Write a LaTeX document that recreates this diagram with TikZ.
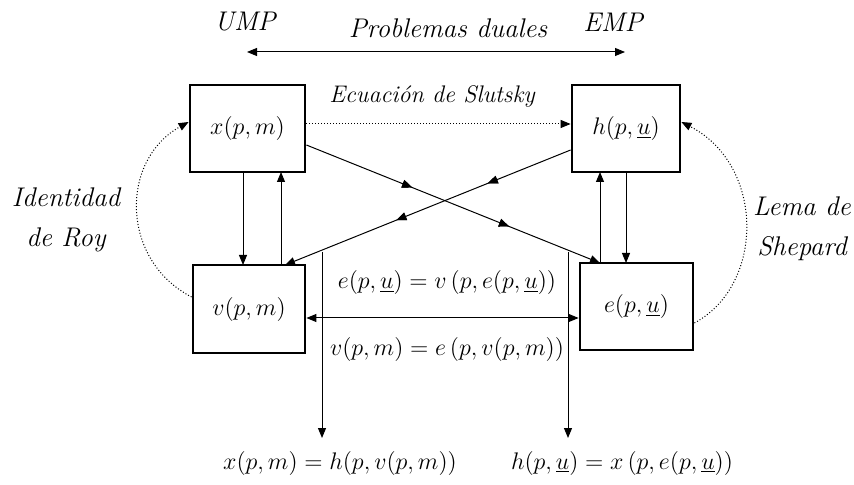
\documentclass[tikz,border=0pt]{standalone}
\usetikzlibrary{arrows.meta,decorations.markings}
\begin{document}
\begin{tikzpicture}[x=0.5pt,y=-0.5pt,
  box/.style={draw,line width=1.4pt,inner sep=0pt,font=\fontsize{13}{15}\selectfont},
  lbl/.style={font=\fontsize{13.5}{16}\selectfont\itshape,inner sep=1pt},
  eq/.style={font=\fontsize{12.5}{14}\selectfont,inner sep=1pt},
  arr/.style={line width=0.5pt,-{Triangle[length=5pt,width=4pt]}},
  midarr/.style={line width=0.5pt,-{Triangle[length=5pt,width=4pt]},
    postaction={decorate},decoration={markings,
      mark=at position #1 with {\arrow{Triangle[length=5pt,width=4pt]}}}},
  dotarr/.style={line width=0.5pt,densely dotted,-{Triangle[length=5pt,width=4pt]}}
]
\useasboundingbox (0,0) rectangle (854,485);

% top
\node[lbl] (ump) at (245,22) {UMP};
\node[lbl] (emp) at (613,22) {EMP};
\node[lbl] (dual) at (448,28) {Problemas duales};
\coordinate (dl) at (247,52);
\coordinate (dr) at (625,52);
\draw[line width=0.5pt,{Triangle[length=5pt,width=4pt]}-{Triangle[length=5pt,width=4pt]}] (dl) -- (dr);

% boxes
\node[box,minimum width=57.5pt,minimum height=43.5pt] (x) at (247.5,128.5) {$x(p,m)$};
\node[box,minimum width=54pt,minimum height=43.5pt] (h) at (626,128.5) {$h(p,\underline{u})$};
\node[box,minimum width=56pt,minimum height=44pt] (v) at (249,309) {$v(p,m)$};
\node[box,minimum width=56.5pt,minimum height=43.5pt] (e) at (636.5,306.5) {$e\bigl(p,\underline{u}\bigr)$};

% Slutsky
\node[lbl,font=\fontsize{12}{14}\selectfont\itshape] (slut) at (432,97) {Ecuación de Slutsky};
\draw[dotarr] (x.east |- 0,124) -- (h.west |- 0,124);

% crossing arrows
\draw[midarr=0.36,postaction={decorate},decoration={markings,mark=at position 0.69 with {\arrow{Triangle[length=5pt,width=4pt]}}}]
  (x.east |- 0,145) -- (600,263);
\draw[midarr=0.29,postaction={decorate},decoration={markings,mark=at position 0.61 with {\arrow{Triangle[length=5pt,width=4pt]}}}]
  (h.west |- 0,150) -- (285,265);

% vertical pairs
\draw[arr] (243,172) -- (243,265);
\draw[arr] (281,265) -- (281,172);
\draw[arr] (600,263) -- (600,172);
\draw[arr] (626,172) -- (626,263);

% horizontal double arrow
\draw[line width=0.5pt,{Triangle[length=5pt,width=4pt]}-{Triangle[length=5pt,width=4pt]}] (v.east |- 0,318) -- (e.west |- 0,318);

% equations
\node[eq] (eq1) at (447,283) {$e\bigl(p,\underline{u}\bigr)=v\left(p,e\bigl(p,\underline{u}\bigr)\right)$};
\node[eq] (eq2) at (447,350) {$v(p,m)=e\,(p,v(p,m))$};
\node[eq] (eq3) at (340,463) {$x(p,m)=h\bigl(p,v(p,m)\bigr)$};
\node[eq] (eq4) at (622,463) {$h(p,\underline{u})=x\left(p,e\bigl(p,\underline{u}\bigr)\right)$};

\coordinate (s1) at (322,252);
\coordinate (s2) at (568,252);
\draw[arr] (s1) -- (322,438);
\draw[arr] (s2) -- (568,438);

% side labels
\node[lbl,align=center] (roy) at (66,220) {Identidad\\[4pt]de Roy};
\node[lbl,align=center] (shep) at (802,229) {Lema de\\[4pt]Shepard};
\draw[dotarr] (v.west |- 0,297) .. controls (120,260) and (120,160) .. (x.west |- 0,122);
\draw[dotarr] (e.east |- 0,323) .. controls (765,285) and (765,165) .. (h.east |- 0,122);
\end{tikzpicture}
\end{document}
